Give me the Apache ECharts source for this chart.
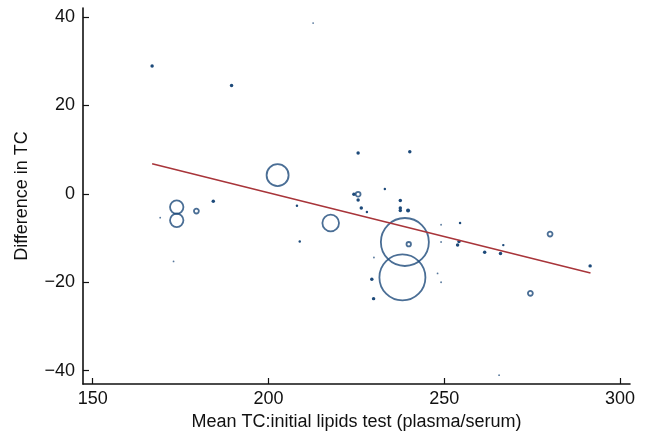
<!DOCTYPE html>
<html>
<head>
<meta charset="utf-8">
<script src="https://cdn.jsdelivr.net/npm/echarts@6/dist/echarts.min.js"></script>
<style>
  html, body { margin: 0; padding: 0; background: #fff; }
  #chart { width: 648px; height: 440px; }
</style>
</head>
<body>
<div id="chart"></div>
<script>
// mean TC of the two tests and their difference, one entry per study
var meanTC = [166.9, 189.5, 212.7, 202.6, 184.3, 208.1, 208.9, 217.7, 225.5, 224.3,
  225.5, 225.5, 226.4, 228.0, 233.1, 240.2, 237.5, 237.5, 237.5, 239.7,
  238.8, 239.9, 238.1, 230.0, 229.4, 229.9, 173.9, 173.9, 179.5, 169.2,
  173.0, 249.1, 254.5, 249.1, 254.2, 253.8, 261.5, 266.8, 266.0, 280.1,
  274.5, 291.5, 248.1, 249.1, 265.6]
var diffTC = [28.9, 24.5, 38.6, 4.2, -1.7, -2.7, -10.8, -6.6, 9.2, -0.1,
  -0.1, -1.4, -3.2, -4.1, 1.1, 9.5, -1.5, -3.2, -3.8, -3.8,
  -10.9, -11.4, -18.9, -14.4, -19.3, -23.7, -3.0, -6.0, -3.9, -5.4,
  -15.3, -7.0, -6.6, -10.9, -10.8, -11.6, -13.2, -11.6, -13.5, -9.1,
  -22.5, -16.3, -18.0, -20.0, -41.0]
// study weight (marker area)
var studyWeight = [3, 3, 0.8, 121, 3, 1.5, 1.5, 69, 3, 3,
  6, 3, 3, 1.5, 1.5, 3, 3, 3, 3, 4,
  576, 5, 529, 0.8, 3, 3, 45, 45, 6, 0.8,
  0.8, 0.8, 1.5, 0.8, 3, 3, 3, 1.5, 3, 6,
  6, 3, 0.8, 0.8, 0.8]

// fitted meta-regression line
var fitX = [166.9, 291.6]
var fitY = [6.8, -17.9]

var xTicks = [150, 200, 250, 300]
var yTicks = [-40, -20, 0, 20, 40]

var blue = '#1d4a7a'
var points = meanTC.map(function (x, i) {
  var size = 2 * Math.sqrt(studyWeight[i])
  // very small markers print as solid dots
  var style = size < 4.2
    ? { color: blue, borderWidth: 0, opacity: size < 2 ? 0.75 : 1 }
    : { color: 'rgba(0,0,0,0)', borderColor: blue, borderWidth: 1.8 }
  return { value: [x, diffTC[i]], symbolSize: size, itemStyle: style }
})
var fitLine = fitX.map(function (x, i) { return [x, fitY[i]] })

var chart = echarts.init(document.getElementById('chart'))
var font = 'Liberation Sans, Arial, sans-serif'

chart.setOption({
  animation: false,
  grid: { left: 83, right: 18, top: 8, bottom: 56 },
  xAxis: {
    type: 'value',
    min: 147.24,
    max: 302.84,
    name: 'Mean TC:initial lipids test (plasma/serum)',
    nameLocation: 'middle',
    nameGap: 27,
    nameTextStyle: { color: '#111', fontSize: 18, fontFamily: font },
    axisLine: { show: true, onZero: false, lineStyle: { color: '#111', width: 1.6 } },
    axisTick: { show: true, inside: true, length: 6, customValues: xTicks, lineStyle: { color: '#111', width: 1.2 } },
    axisLabel: { customValues: xTicks, color: '#111', fontSize: 18, fontFamily: font, margin: 6 },
    splitLine: { show: false }
  },
  yAxis: {
    type: 'value',
    min: -43,
    max: 42,
    name: 'Difference in TC',
    nameLocation: 'middle',
    nameGap: 52,
    nameTextStyle: { color: '#111', fontSize: 18, fontFamily: font },
    axisLine: { show: true, onZero: false, lineStyle: { color: '#111', width: 1.6 } },
    axisTick: { show: true, inside: true, length: 6, customValues: yTicks, lineStyle: { color: '#111', width: 1.2 } },
    axisLabel: {
      customValues: yTicks, color: '#111', fontSize: 18, fontFamily: font, margin: 8,
      formatter: function (v) { return v < 0 ? '\u2212' + Math.abs(v) : String(v) }
    },
    splitLine: { show: false }
  },
  series: [
    {
      type: 'scatter',
      data: points,
      symbol: 'circle',
      z: 2
    },
    {
      type: 'line',
      data: fitLine,
      showSymbol: false,
      lineStyle: { color: '#a8353a', width: 1.6 },
      z: 3
    }
  ]
})
</script>
</body>
</html>
